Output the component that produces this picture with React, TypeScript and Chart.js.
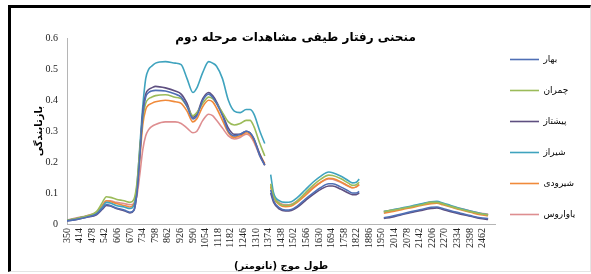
import { useEffect, useRef } from 'react';
import { Chart, registerables } from 'chart.js';

Chart.register(...registerables);

// wavelength (nm); null series entries mark the removed water-absorption bands
const wavelengths = [
  350, 400, 450, 500, 530, 550, 570, 600, 640, 670, 690, 705, 720, 735, 750, 765, 780, 800, 850, 900,
  930, 960, 990, 1010, 1040, 1070, 1090, 1110, 1140, 1170, 1200, 1230, 1260, 1280, 1300, 1330, 1355,
  1370,
  1385, 1400, 1430, 1460, 1490, 1520, 1560, 1600, 1640, 1680, 1700, 1740, 1780, 1800, 1820, 1835,
  1900,
  1960, 2000, 2050, 2100, 2150, 2200, 2230, 2260, 2300, 2350, 2400, 2450, 2490,
];

const bahar = [
  0.010, 0.015, 0.022, 0.032, 0.050, 0.063, 0.060, 0.052, 0.045, 0.038, 0.045, 0.100, 0.220, 0.350, 0.410, 0.425, 0.430, 0.432, 0.430, 0.420,
  0.410, 0.380, 0.340, 0.350, 0.400, 0.420, 0.410, 0.390, 0.350, 0.300, 0.285, 0.290, 0.300, 0.295, 0.275, 0.220, 0.190,
  null,
  0.110, 0.075, 0.052, 0.045, 0.047, 0.058, 0.080, 0.100, 0.118, 0.130, 0.130, 0.120, 0.107, 0.100, 0.100, 0.105,
  null,
  0.020, 0.025, 0.032, 0.040, 0.047, 0.054, 0.055, 0.050, 0.043, 0.035, 0.027, 0.020, 0.018,
];

const chamran = [
  0.012, 0.018, 0.026, 0.040, 0.070, 0.088, 0.086, 0.080, 0.075, 0.070, 0.080, 0.130, 0.240, 0.340, 0.390, 0.405, 0.410, 0.415, 0.418, 0.410,
  0.405, 0.380, 0.350, 0.360, 0.390, 0.410, 0.405, 0.390, 0.360, 0.330, 0.320, 0.325, 0.335, 0.335, 0.315, 0.260, 0.220,
  null,
  0.130, 0.090, 0.065, 0.060, 0.062, 0.075, 0.100, 0.125, 0.145, 0.158, 0.157, 0.147, 0.132, 0.125, 0.127, 0.135,
  null,
  0.040, 0.044, 0.050, 0.056, 0.062, 0.070, 0.070, 0.065, 0.057, 0.048, 0.040, 0.033, 0.030,
];

const pishtaz = [
  0.010, 0.015, 0.022, 0.030, 0.048, 0.060, 0.058, 0.050, 0.043, 0.036, 0.044, 0.100, 0.230, 0.360, 0.420, 0.435, 0.440, 0.445, 0.440, 0.430,
  0.420, 0.390, 0.345, 0.355, 0.405, 0.425, 0.415, 0.395, 0.355, 0.310, 0.290, 0.290, 0.300, 0.295, 0.275, 0.225, 0.190,
  null,
  0.100, 0.070, 0.048, 0.042, 0.044, 0.054, 0.075, 0.095, 0.112, 0.123, 0.123, 0.113, 0.100, 0.095, 0.095, 0.100,
  null,
  0.018, 0.022, 0.030, 0.037, 0.044, 0.050, 0.052, 0.047, 0.040, 0.032, 0.025, 0.018, 0.015,
];

const shiraz = [
  0.012, 0.018, 0.025, 0.035, 0.055, 0.070, 0.068, 0.060, 0.055, 0.050, 0.060, 0.120, 0.250, 0.380, 0.470, 0.500, 0.510, 0.520, 0.525, 0.520,
  0.515, 0.470, 0.425, 0.440, 0.490, 0.525, 0.520, 0.510, 0.470, 0.400, 0.365, 0.360, 0.370, 0.370, 0.355, 0.300, 0.260,
  null,
  0.160, 0.100, 0.075, 0.070, 0.072, 0.085, 0.110, 0.135, 0.155, 0.168, 0.166, 0.155, 0.140, 0.133, 0.135, 0.145,
  null,
  0.040, 0.045, 0.052, 0.058, 0.065, 0.072, 0.073, 0.068, 0.060, 0.050, 0.042, 0.035, 0.030,
];

const shiroudi = [
  0.012, 0.018, 0.025, 0.036, 0.060, 0.075, 0.073, 0.066, 0.060, 0.055, 0.065, 0.110, 0.210, 0.320, 0.370, 0.385, 0.390, 0.395, 0.400, 0.395,
  0.390, 0.365, 0.330, 0.340, 0.380, 0.400, 0.395, 0.375, 0.335, 0.295, 0.280, 0.285, 0.295, 0.290, 0.270, 0.225, 0.195,
  null,
  0.120, 0.085, 0.062, 0.056, 0.058, 0.070, 0.092, 0.115, 0.135, 0.148, 0.147, 0.137, 0.123, 0.117, 0.120, 0.127,
  null,
  0.035, 0.040, 0.046, 0.053, 0.060, 0.066, 0.067, 0.062, 0.055, 0.046, 0.038, 0.030, 0.027,
];

const yavarous = [
  0.013, 0.020, 0.027, 0.038, 0.060, 0.075, 0.075, 0.070, 0.066, 0.062, 0.066, 0.090, 0.160, 0.240, 0.285, 0.305, 0.315, 0.322, 0.330, 0.330,
  0.325, 0.310, 0.295, 0.300, 0.335, 0.355, 0.350, 0.335, 0.310, 0.285, 0.275, 0.280, 0.290, 0.285, 0.265, 0.220, 0.190,
  null,
  0.125, 0.090, 0.068, 0.062, 0.064, 0.075, 0.097, 0.118, 0.135, 0.146, 0.145, 0.135, 0.122, 0.117, 0.120, 0.127,
  null,
  0.040, 0.045, 0.050, 0.056, 0.063, 0.070, 0.070, 0.065, 0.058, 0.050, 0.042, 0.035, 0.032,
];

const seriesNames = ['بهار', 'چمران', 'پیشتاز', 'شیراز', 'شیرودی', 'یاواروس'];
const seriesValues = [bahar, chamran, pishtaz, shiraz, shiroudi, yavarous];
const seriesColors = ['#4F6FB5', '#9BBB59', '#5E4F80', '#3FA3BE', '#F08A3A', '#DE8E90'];

const xTickLabels = [
  350, 414, 478, 542, 606, 670, 734, 798, 862, 926, 990, 1054, 1118, 1182, 1246, 1310, 1374,
  1438, 1502, 1566, 1630, 1694, 1758, 1822, 1886, 1950, 2014, 2078, 2142, 2206, 2270, 2334, 2398, 2462,
];

const chartTitle = 'منحنی رفتار طیفی مشاهدات مرحله دوم';
const xTitle = 'طول موج (نانومتر)\u200F';
const yTitle = 'بازتابندگی';

const persianFont = "'DejaVu Sans', sans-serif";
const numberFont = "'Liberation Serif', 'Times New Roman', serif";

// nudges the legend column a few pixels left so its labels fit inside the frame
const legendShift = {
  id: 'legendShift',
  afterLayout(chart: any) {
    const lg = chart.legend;
    if (lg) {
      lg.left -= 7;
      lg.right -= 7;
    }
  },
};

export default function App() {
  const canvasRef = useRef<HTMLCanvasElement | null>(null);

  useEffect(() => {
    const canvas = canvasRef.current;
    if (!canvas) return;
    const chart = new Chart(canvas, {
      type: 'line',
      data: {
        datasets: seriesNames.map((name, i) => ({
          label: name,
          data: wavelengths.map((w, j) => ({ x: w, y: seriesValues[i][j] })),
          borderColor: seriesColors[i],
          backgroundColor: seriesColors[i],
          borderWidth: 1.6,
          pointRadius: 0,
          pointStyle: 'line',
          spanGaps: false,
          cubicInterpolationMode: 'monotone',
        })),
      },
      plugins: [legendShift],
      options: {
        animation: false,
        responsive: false,
        maintainAspectRatio: false,
        layout: { padding: { left: 0, right: 0, top: 0, bottom: 0 } },
        plugins: {
          tooltip: { enabled: false },
          title: {
            display: true,
            text: chartTitle,
            color: '#000',
            font: { family: persianFont, size: 12, weight: 'bold' },
            padding: { top: 31, bottom: -7 },
          },
          legend: {
            position: 'right',
            align: 'center',
            maxWidth: 96,
            labels: {
              color: '#000',
              font: { family: persianFont, size: 9, weight: 'normal' },
              usePointStyle: true,
              pointStyle: 'line',
              pointStyleWidth: 29,
              padding: 22,
            },
          },
        },
        scales: {
          x: {
            type: 'linear',
            min: 350,
            max: 2525,
            afterFit: (scale: any) => {
              scale.height = 50;
            },
            afterBuildTicks: (scale: any) => {
              scale.ticks = xTickLabels.map((v) => ({ value: v }));
            },
            grid: { display: true, drawOnChartArea: false, drawTicks: false },
            border: { display: true, color: '#b5b5b5', width: 1 },
            ticks: {
              autoSkip: false,
              minRotation: 90,
              maxRotation: 90,
              padding: 4,
              color: '#222',
              font: { family: numberFont, size: 10 },
              callback: (v: any) => String(v),
            },
            title: {
              display: true,
              text: xTitle,
              color: '#000',
              font: { family: persianFont, size: 10, weight: 'bold' },
              padding: { top: 0, bottom: 2 },
            },
          },
          y: {
            min: 0,
            max: 0.6,
            afterFit: (scale: any) => {
              scale.width = 67;
            },
            grid: { display: true, drawOnChartArea: false, drawTicks: false },
            border: { display: true, color: '#b5b5b5', width: 1 },
            ticks: {
              stepSize: 0.1,
              padding: 9,
              color: '#222',
              font: { family: numberFont, size: 10 },
              callback: (v: any) => (Number(v) === 0 ? '0' : Number(v).toFixed(1)),
            },
            title: {
              display: true,
              text: yTitle,
              color: '#000',
              font: { family: persianFont, size: 10, weight: 'bold' },
              padding: { top: 33, bottom: 0 },
            },
          },
        },
      },
    });
    return () => chart.destroy();
  }, []);

  return (
    <div style={{ position: 'fixed', left: 0, top: 0, width: 591, height: 274, background: '#fff' }}>
      <div
        style={{
          position: 'absolute',
          left: 8,
          top: 5,
          width: 579,
          height: 263,
          borderTop: '3px solid #000',
          borderLeft: '3px solid #000',
          borderRight: '1px solid #e4e4e4',
          borderBottom: '1px solid #e4e4e4',
        }}
      />
      <canvas ref={canvasRef} width={591} height={274} style={{ position: 'absolute', left: 0, top: 0 }} />
    </div>
  );
}
